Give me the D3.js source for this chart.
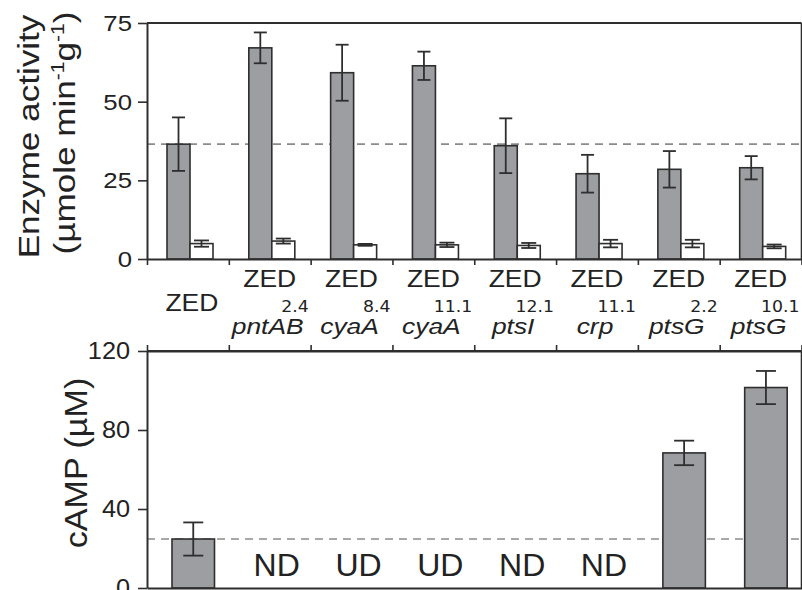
<!DOCTYPE html>
<html><head><meta charset="utf-8">
<script src="https://cdn.jsdelivr.net/npm/d3@7"></script>
<style>
html,body{margin:0;padding:0;background:#fff;}
svg{display:block;}
</style></head>
<body>
<svg id="chart" width="802" height="590"></svg>
<script>
// ---- data ----
const strains = ["ZED","ZED","ZED","ZED","ZED","ZED","ZED","ZED"];
const genes   = ["", "pntAB", "cyaA", "cyaA", "ptsI", "crp", "ptsG", "ptsG"];
const suffixes= ["", "2.4", "8.4", "11.1", "12.1", "11.1", "2.2", "10.1"];
const enzymeGray    = [36.5, 67.1, 59.2, 61.4, 36.0, 27.1, 28.5, 29.0];
const enzymeGrayErr = [8.5, 4.9, 8.9, 4.5, 8.7, 6.0, 5.8, 3.7];
const enzymeWhite    = [4.9, 5.7, 4.5, 4.5, 4.3, 4.9, 4.9, 4.0];
const enzymeWhiteErr = [1.0, 0.8, 0.3, 0.7, 0.8, 1.2, 1.2, 0.6];
const camp    = [24.8, null, null, null, null, null, 68.4, 101.5];
const campErr = [8.4, null, null, null, null, null, 6.2, 8.4];
const campNotes = ["", "ND", "UD", "UD", "ND", "ND", "", ""];
const enzymeTicks = [0, 25, 50, 75];
const campTicks = [0, 40, 80, 120];
const enzymeRef = enzymeGray[0];
const campRef = camp[0];

// ---- layout ----
const svg = d3.select("#chart");
const L = 147, R = 801.5;
const topT = 23, topB = 259;
const botT = 351, botB = 588;
const ink = "#2e2e2e";
const grayFill = "#9d9ea2";
const SANS = "'Liberation Sans', Arial, Helvetica, sans-serif";

const idx = d3.range(strains.length);
const x = d3.scaleBand().domain(idx).range([L, R]);
const xEdge = d3.scaleLinear().domain([0, strains.length]).range([L, R]);
const xs = d3.scaleBand().domain(["gray","white"]).range([20, 66]);
const yTop = d3.scaleLinear().domain([0, 75]).range([topB, topT]);
const yBot = d3.scaleLinear().domain([0, 120]).range([botB, botT]);

function stext(parent, px, py, str, o) {
  const g = parent.append("g")
    .attr("transform", `translate(${px},${py}) rotate(${o.rotate||0}) scale(${o.k||1},1)`);
  const t = g.append("text")
    .attr("text-anchor", o.anchor || "middle")
    .attr("font-family", o.family || SANS)
    .attr("font-size", o.size)
    .attr("font-style", o.style || "normal")
    .attr("fill", o.fill || "#222");
  if (str !== null) t.text(str);
  return t;
}

function styleAxis(g, k, pad) {
  g.select(".domain").attr("stroke", ink).attr("stroke-width", 2);
  g.selectAll(".tick line").attr("stroke", ink).attr("stroke-width", 1.6);
  g.selectAll(".tick text")
    .attr("font-family", SANS).attr("font-size", 23).attr("fill", "#222")
    .attr("x", -pad / k).attr("transform", `scale(${k},1)`);
}

function errBar(g, cx, v, e, y, cap) {
  g.append("line").attr("x1", cx).attr("x2", cx).attr("y1", y(v + e)).attr("y2", y(v - e))
    .attr("stroke", ink).attr("stroke-width", 1.8);
  [v + e, v - e].forEach(val => {
    g.append("line").attr("x1", cx - cap / 2).attr("x2", cx + cap / 2)
      .attr("y1", y(val)).attr("y2", y(val)).attr("stroke", ink).attr("stroke-width", 1.8);
  });
}

// ================= TOP PANEL =================
const topG = svg.append("g");
topG.append("line")
  .attr("x1", L).attr("x2", R)
  .attr("y1", yTop(enzymeRef)).attr("y2", yTop(enzymeRef))
  .attr("stroke", "#8a8a8a").attr("stroke-width", 1.6).attr("stroke-dasharray", "8,6");

const grpT = topG.selectAll("g.grp").data(idx).enter().append("g")
  .attr("transform", i => `translate(${x(i)},0)`);
grpT.append("rect")
  .attr("x", xs("gray")).attr("width", xs.bandwidth())
  .attr("y", i => yTop(enzymeGray[i])).attr("height", i => topB - yTop(enzymeGray[i]))
  .attr("fill", grayFill).attr("stroke", ink).attr("stroke-width", 1.6);
grpT.append("rect")
  .attr("x", xs("white")).attr("width", xs.bandwidth())
  .attr("y", i => yTop(enzymeWhite[i])).attr("height", i => topB - yTop(enzymeWhite[i]))
  .attr("fill", "#fff").attr("stroke", ink).attr("stroke-width", 1.6);
grpT.each(function(i) {
  const g = d3.select(this);
  errBar(g, xs("gray") + xs.bandwidth() / 2, enzymeGray[i], enzymeGrayErr[i], yTop, 13);
  errBar(g, xs("white") + xs.bandwidth() / 2, enzymeWhite[i], enzymeWhiteErr[i], yTop, 15);
});

topG.append("line").attr("x1", L).attr("x2", R).attr("y1", topT).attr("y2", topT)
  .attr("stroke", ink).attr("stroke-width", 2);
topG.append("line").attr("x1", R).attr("x2", R).attr("y1", topT).attr("y2", topB)
  .attr("stroke", ink).attr("stroke-width", 1.6);

const axL1 = topG.append("g").attr("transform", `translate(${L},0)`)
  .call(d3.axisLeft(yTop).tickValues(enzymeTicks).tickSize(9).tickSizeOuter(0).tickPadding(6));
styleAxis(axL1, 1.12, 15);
const axB1 = topG.append("g").attr("transform", `translate(0,${topB})`)
  .call(d3.axisBottom(xEdge).tickValues(d3.range(strains.length + 1)).tickSize(6).tickSizeOuter(0).tickFormat(""));
styleAxis(axB1, 1, 0);

stext(svg, 38.5, 136.5, "Enzyme activity", {size: 30, k: 1.17, rotate: -90});
const t2 = stext(svg, 75, 133, null, {size: 30, k: 1.17, rotate: -90});
t2.append("tspan").text("(µmole min");
t2.append("tspan").attr("font-size", 18).attr("dy", -11).text("-1");
t2.append("tspan").attr("dy", 11).text("g");
t2.append("tspan").attr("font-size", 18).attr("dy", -11).text("-1");
t2.append("tspan").attr("dy", 11).text(")");

idx.forEach(i => {
  const cx = x(i) + x.bandwidth() / 2;
  if (genes[i] === "") {
    stext(svg, cx + 4, 310.5, strains[i], {size: 23, k: 1.15});
  } else {
    stext(svg, cx, 287, strains[i], {size: 23, k: 1.15});
    stext(svg, x(i) + x.bandwidth() - 2, 311.5, suffixes[i],
      {size: 16, k: 1.08, anchor: "end", family: "'DejaVu Sans', Verdana, sans-serif"});
    stext(svg, cx - 2, 333.5, genes[i], {size: 22, k: 1.2, style: "italic"});
  }
});

// ================= BOTTOM PANEL =================
const botG = svg.append("g");
botG.append("line")
  .attr("x1", L).attr("x2", R)
  .attr("y1", yBot(campRef)).attr("y2", yBot(campRef))
  .attr("stroke", "#8a8a8a").attr("stroke-width", 1.6).attr("stroke-dasharray", "8,6");

const bw = 42.5, boff = 25;
const grpB = botG.selectAll("g.grp").data(idx).enter().append("g")
  .attr("transform", i => `translate(${x(i)},0)`);
grpB.filter(i => camp[i] !== null).append("rect")
  .attr("x", boff).attr("width", bw)
  .attr("y", i => yBot(camp[i])).attr("height", i => botB - yBot(camp[i]))
  .attr("fill", grayFill).attr("stroke", ink).attr("stroke-width", 1.6);
grpB.filter(i => camp[i] !== null).each(function(i) {
  errBar(d3.select(this), boff + bw / 2, camp[i], campErr[i], yBot, 20);
});
idx.forEach(i => {
  if (campNotes[i]) {
    stext(svg, x(i) + x.bandwidth() / 2 + 7, 575.5, campNotes[i], {size: 32, k: 1.0});
  }
});

botG.append("line").attr("x1", L).attr("x2", R).attr("y1", botT).attr("y2", botT)
  .attr("stroke", ink).attr("stroke-width", 2);
botG.append("line").attr("x1", R).attr("x2", R).attr("y1", botT).attr("y2", botB)
  .attr("stroke", ink).attr("stroke-width", 1.6);
const axT2 = botG.append("g").attr("transform", `translate(0,${botT})`)
  .call(d3.axisTop(xEdge).tickValues(d3.range(strains.length + 1)).tickSize(6).tickSizeOuter(0).tickFormat(""));
styleAxis(axT2, 1, 0);
const axL2 = botG.append("g").attr("transform", `translate(${L},0)`)
  .call(d3.axisLeft(yBot).tickValues(campTicks).tickSize(9).tickSizeOuter(0).tickPadding(8));
styleAxis(axL2, 1.1, 17);
const axB2 = botG.append("g").attr("transform", `translate(0,${botB})`)
  .call(d3.axisBottom(xEdge).tickValues([]).tickSizeOuter(0));
styleAxis(axB2, 1, 0);

stext(svg, 86.5, 463, "cAMP (µM)", {size: 31, k: 1.1, rotate: -90});
</script>
</body></html>
